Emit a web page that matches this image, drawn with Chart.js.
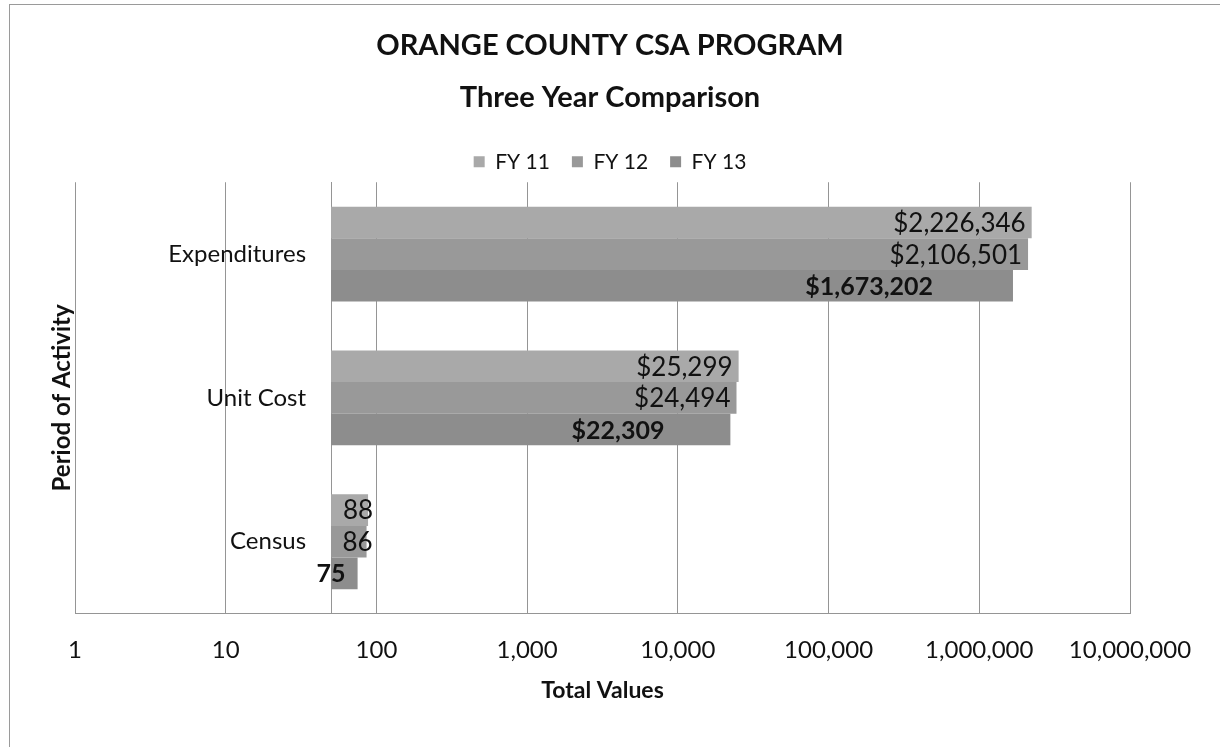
<!DOCTYPE html>
<html>
<head>
<meta charset="utf-8">
<script src="https://cdn.jsdelivr.net/npm/chart.js@4/dist/chart.umd.min.js"></script>
<style>
  html, body { margin: 0; padding: 0; background: #fff; }
  #wrap { width: 1220px; height: 747px; position: relative; }
</style>
</head>
<body>
<div id="wrap"><canvas id="chart" width="1220" height="747"></canvas></div>
<script>
// Data
const categories = ['Expenditures', 'Unit Cost', 'Census'];
const seriesNames = ['FY 11', 'FY 12', 'FY 13'];
const fy11 = [2226346, 25299, 88];
const fy12 = [2106501, 24494, 86];
const fy13 = [1673202, 22309, 75];
const valuePrefix = ['$', '$', ''];
const xTicks = [1, 10, 100, 1000, 10000, 100000, 1000000, 10000000];

// Style
const FONT = 'Lato, "Open Sans", sans-serif';
const barColors = ['#a9a9a9', '#999999', '#8d8d8d'];
const gridColor = '#959595';
const axisCross = 50; // category axis crosses value axis here
// pixel inset of each value label from its bar end: [category][series]
const labelInset = [[6, 6, 80], [6, 6, 66], [-5, -6, 12]];

const seriesValues = [fy11, fy12, fy13];

function fmt(v, catIdx) {
  return valuePrefix[catIdx] + v.toLocaleString('en-US');
}

const frame = {
  id: 'frame',
  beforeDraw(chart) {
    const { ctx } = chart;
    ctx.save();
    ctx.strokeStyle = '#9a9a9a';
    ctx.lineWidth = 1;
    ctx.strokeRect(9.5, 4.5, 1400, 900);
    ctx.restore();
  },
};

const valueLabels = {
  id: 'valueLabels',
  afterDatasetsDraw(chart) {
    const { ctx } = chart;
    ctx.save();
    ctx.textAlign = 'right';
    ctx.textBaseline = 'middle';
    ctx.fillStyle = '#111';
    chart.data.datasets.forEach((ds, i) => {
      const meta = chart.getDatasetMeta(i);
      ctx.font = (i === 2 ? 'bold 25px ' : '26px ') + FONT;
      meta.data.forEach((bar, j) => {
        ctx.fillText(fmt(ds.data[j], j), bar.x - labelInset[j][i], bar.y + 1);
      });
    });
    ctx.restore();
  },
};

// category labels sit left of the crossing axis line
const categoryText = {
  id: 'categoryText',
  afterDraw(chart) {
    const { ctx, scales } = chart;
    ctx.save();
    ctx.fillStyle = '#111';
    ctx.textAlign = 'right';
    ctx.textBaseline = 'middle';
    ctx.font = '24px ' + FONT;
    const xCross = scales.x.getPixelForValue(axisCross);
    categories.forEach((c, j) => {
      ctx.fillText(c, xCross - 25, scales.y.getPixelForTick(j));
    });
    ctx.restore();
  },
};

new Chart(document.getElementById('chart'), {
  type: 'bar',
  data: {
    labels: categories,
    datasets: seriesNames.map((name, i) => ({
      label: name,
      data: seriesValues[i],
      backgroundColor: barColors[i],
      borderWidth: 0,
      base: axisCross,
      barPercentage: 1,
      categoryPercentage: 0.66,
    })),
  },
  options: {
    indexAxis: 'y',
    responsive: false,
    animation: false,
    layout: { padding: { left: 37, right: 37, top: 10, bottom: 43 } },
    scales: {
      x: {
        type: 'logarithmic',
        min: 1,
        max: 10000000,
        afterBuildTicks(scale) {
          scale.ticks = xTicks.map((v) => ({ value: v, major: true }));
        },
        afterFit(scale) {
          // leave room on the right for the last tick label
          scale.paddingRight = 90;
        },
        ticks: {
          color: '#111',
          font: { family: FONT, size: 24 },
          padding: 22,
          maxRotation: 0,
          autoSkip: false,
          callback: (v) => Number(v).toLocaleString('en-US'),
        },
        grid: { color: gridColor, drawTicks: false },
        border: { color: gridColor },
        title: {
          display: true,
          text: 'Total Values',
          color: '#111',
          font: { family: FONT, size: 23, weight: 'bold' },
          padding: { top: -10, bottom: 0 },
        },
      },
      y: {
        position: { x: axisCross },
        grid: { display: false },
        border: { color: gridColor },
        ticks: { display: false },
      },
      yTitle: {
        type: 'category',
        axis: 'y',
        position: 'left',
        grid: { display: false },
        border: { display: false },
        ticks: { display: false },
        title: {
          display: true,
          text: 'Period of Activity',
          color: '#111',
          font: { family: FONT, size: 24, weight: 'bold' },
          padding: { top: 11, bottom: 0 },
        },
        afterFit(scale) {
          scale.width = 38;
        },
      },
    },
    plugins: {
      title: {
        display: true,
        text: ['ORANGE COUNTY CSA PROGRAM', 'Three Year Comparison'],
        color: '#111',
        font: { family: FONT, size: 29, weight: 'bold', lineHeight: 1.78 },
        padding: { top: 10, bottom: 6 },
      },
      legend: {
        position: 'top',
        labels: {
          color: '#111',
          boxWidth: 11,
          boxHeight: 11,
          padding: 22,
          font: { family: FONT, size: 21 },
        },
      },
      tooltip: { enabled: false },
    },
  },
  plugins: [frame, valueLabels, categoryText],
});
</script>
</body>
</html>
